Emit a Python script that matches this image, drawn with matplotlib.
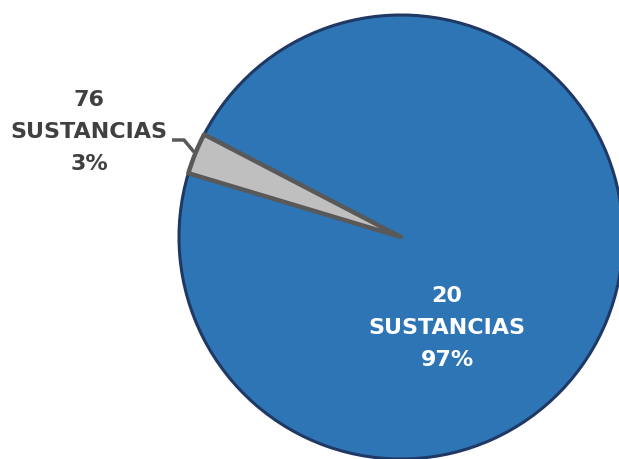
import matplotlib.pyplot as plt

labels = ["76\nSUSTANCIAS\n3%", "20\nSUSTANCIAS\n97%"]
shares = [3, 97]
colors = ["#bfbfbf", "#2e75b6"]
edges = ["#595959", "#1f3864"]

fig = plt.figure(figsize=(6.19, 4.60), dpi=100)
ax = fig.add_axes([0, 0, 1, 1])

wedges, _ = ax.pie(shares, colors=colors, center=(401, 222), radius=222,
                   startangle=152.5, counterclock=True, frame=True)
ax.set_xlim(0, 619)
ax.set_ylim(0, 460)
ax.set_aspect("equal")
ax.axis("off")
for w, ec in zip(wedges, edges):
    w.set_edgecolor(ec)
    w.set_joinstyle("round")
wedges[0].set_linewidth(3.2)
wedges[0].set_zorder(3)
wedges[1].set_linewidth(2.2)

# small label outside with leader line
ax.plot([172, 184, 194], [319, 319, 307], color="#595959", lw=2.5,
        solid_capstyle="butt", zorder=4)
ax.text(89, 328, labels[0], ha="center", va="center", fontsize=16,
        fontweight="bold", color="#404040", linespacing=1.72,
        family="DejaVu Sans")

ax.text(447, 132, labels[1], ha="center", va="center", fontsize=16,
        fontweight="bold", color="white", linespacing=1.72,
        family="DejaVu Sans")

fig.savefig("out.png", dpi=100)
